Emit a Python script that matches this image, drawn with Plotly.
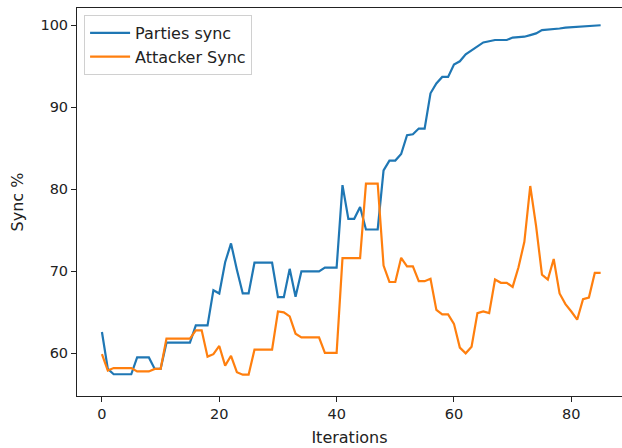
import plotly.graph_objects as go

iterations = list(range(86))

parties_sync = [
    62.6, 58.1, 57.45, 57.45, 57.45, 57.45, 59.5, 59.5, 59.5, 58.1,
    58.1, 61.3, 61.3, 61.3, 61.3, 61.3, 63.4, 63.4, 63.4, 67.7,
    67.3, 71.1, 73.4, 70.2, 67.3, 67.3, 71.05, 71.05, 71.05, 71.05,
    66.85, 66.85, 70.3, 66.9, 70.0, 70.0, 70.0, 70.0, 70.45, 70.45,
    70.45, 80.5, 76.4, 76.4, 77.85, 75.1, 75.1, 75.1, 82.3, 83.5,
    83.5, 84.3, 86.6, 86.7, 87.4, 87.4, 91.7, 92.9, 93.7, 93.7,
    95.2, 95.6, 96.45, 96.9, 97.4, 97.9, 98.05, 98.2, 98.2, 98.2,
    98.5, 98.55, 98.6, 98.8, 99.0, 99.4, 99.45, 99.5, 99.6, 99.7,
    99.75, 99.8, 99.85, 99.85, 99.9, 100.0,
]

attacker_sync = [
    59.9, 57.9, 58.2, 58.2, 58.2, 58.2, 57.8, 57.8, 57.8, 58.1,
    58.1, 61.8, 61.8, 61.8, 61.8, 61.8, 62.8, 62.8, 59.6, 59.9,
    60.9, 58.5, 59.7, 57.7, 57.4, 57.4, 60.45, 60.45, 60.45, 60.45,
    65.1, 65.0, 64.5, 62.4, 61.95, 61.95, 61.95, 61.95, 60.05, 60.05,
    60.05, 71.6, 71.6, 71.6, 71.6, 80.7, 80.7, 80.7, 70.7, 68.7,
    68.7, 71.65, 70.6, 70.6, 68.8, 68.8, 69.1, 65.3, 64.75, 64.75,
    63.6, 60.7, 60.0, 60.8, 64.9, 65.1, 64.9, 69.0, 68.6, 68.6,
    68.1, 70.5, 73.6, 80.4, 75.5, 69.6, 69.0, 71.5, 67.3, 66.0,
    65.1, 64.1, 66.6, 66.8, 69.8, 69.8,
]

x_ticks = [0, 20, 40, 60, 80]
y_ticks = [60, 70, 80, 90, 100]

fig = go.Figure()
fig.add_trace(go.Scatter(x=iterations, y=parties_sync, mode="lines",
                         name="Parties sync",
                         line=dict(color="#1f77b4", width=2.2)))
fig.add_trace(go.Scatter(x=iterations, y=attacker_sync, mode="lines",
                         name="Attacker Sync",
                         line=dict(color="#ff7f0e", width=2.2)))

tick_font = dict(family="DejaVu Sans", size=14.5, color="#222222")
title_font = dict(family="DejaVu Sans", size=16, color="#222222")

fig.update_layout(
    width=622, height=448,
    margin=dict(l=77, r=0, t=8, b=52),
    paper_bgcolor="white", plot_bgcolor="white",
    font=dict(family="DejaVu Sans", size=14, color="#222222"),
    showlegend=True,
    legend=dict(x=0.013, y=0.982, xanchor="left", yanchor="top",
                bgcolor="white", bordercolor="#d0d0d0", borderwidth=1,
                font=dict(family="DejaVu Sans", size=16, color="#222222"),
                tracegroupgap=2, itemwidth=40),
    xaxis=dict(range=[-4.25, 88.64], tickmode="array", tickvals=x_ticks,
               ticks="outside", ticklen=5, tickcolor="#222222",
               showline=True, linecolor="#222222", linewidth=1, mirror=True,
               showgrid=False, zeroline=False, tickfont=tick_font,
               title=dict(text="Iterations", font=title_font, standoff=10)),
    yaxis=dict(range=[54.8, 102.1], tickmode="array", tickvals=y_ticks,
               ticks="outside", ticklen=5, tickcolor="#222222",
               showline=True, linecolor="#222222", linewidth=1, mirror=False,
               showgrid=False, zeroline=False, tickfont=tick_font,
               title=dict(text="Sync %", font=title_font, standoff=12)),
)

fig.write_html("out.html")
